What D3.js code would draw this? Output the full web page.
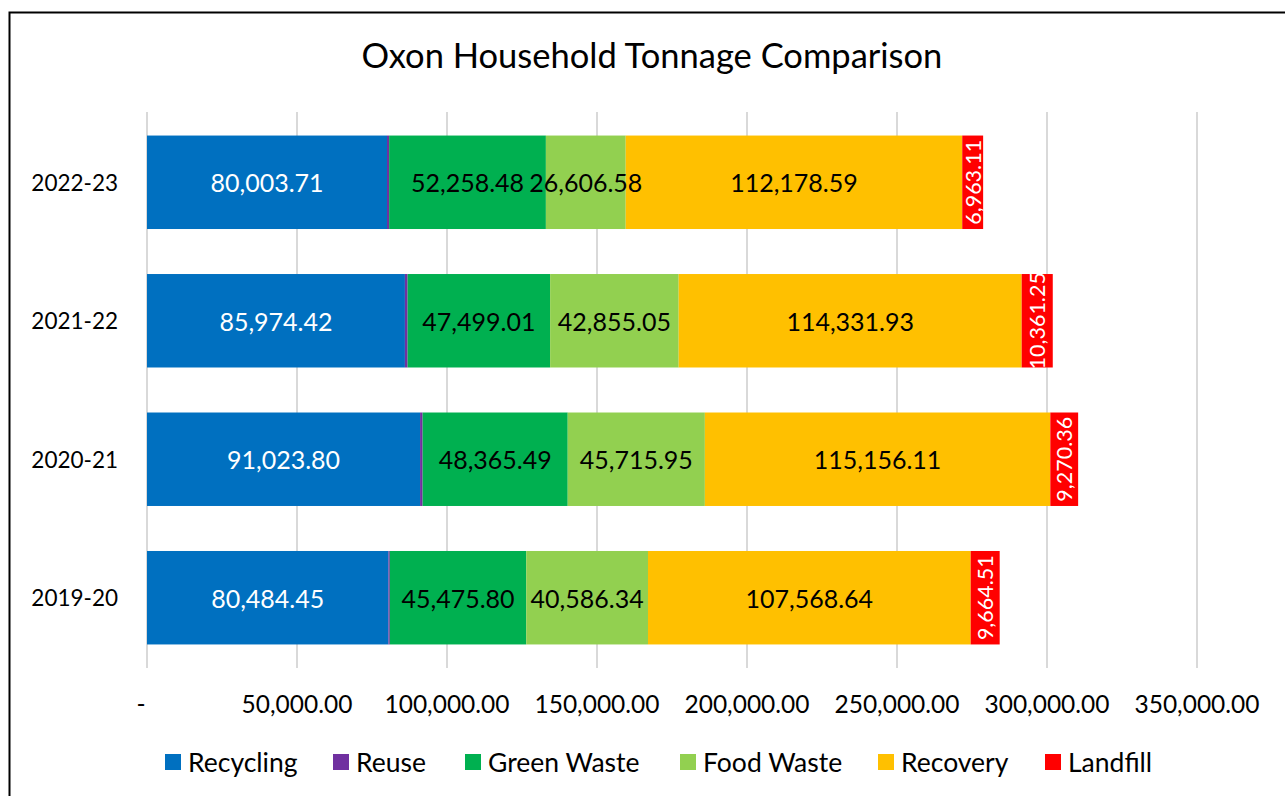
<!DOCTYPE html>
<html lang="en">
<head>
<meta charset="UTF-8"/>
<title>Oxon Household Tonnage Comparison</title>
<script src="https://d3js.org/d3.v7.min.js"></script>
<style>
  body { margin: 0; background: #fff; }
  text { font-family: Lato, "Open Sans", sans-serif; }
</style>
</head>
<body>
<script>
var w = 1285;
var h = 796;

// data
var years = ["2022-23", "2021-22", "2020-21", "2019-20"];
var seriesNames = ["Recycling", "Reuse", "Green Waste", "Food Waste", "Recovery", "Landfill"];
var recycling = [80003.71, 85974.42, 91023.80, 80484.45];
var reuse = [700, 900, 850, 450];
var greenWaste = [52258.48, 47499.01, 48365.49, 45475.80];
var foodWaste = [26606.58, 42855.05, 45715.95, 40586.34];
var recovery = [112178.59, 114331.93, 115156.11, 107568.64];
var landfill = [6963.11, 10361.25, 9270.36, 9664.51];
var xTicks = [0, 50000, 100000, 150000, 200000, 250000, 300000, 350000];

var colors = ["#0070C0", "#7030A0", "#00B050", "#92D050", "#FFC000", "#FF0000"];
var labelColors = ["#fff", null, "#000", "#000", "#000", "#fff"];

var seriesValues = [recycling, reuse, greenWaste, foodWaste, recovery, landfill];
var table = years.map(function(y, i) {
  var row = { year: y };
  seriesNames.forEach(function(s, j) { row[s] = seriesValues[j][i]; });
  return row;
});
var stacked = d3.stack().keys(seriesNames)(table);

var svg = d3.select("body").append("svg")
  .attr("width", w)
  .attr("height", h);

// chart border
svg.append("rect")
  .attr("x", 9.5).attr("y", 12.5)
  .attr("width", w + 10).attr("height", h + 10)
  .attr("fill", "none")
  .attr("stroke", "#000")
  .attr("stroke-width", 2);

svg.append("text")
  .attr("x", 652).attr("y", 68)
  .attr("text-anchor", "middle")
  .style("font-size", "34.5px")
  .attr("fill", "#000")
  .text("Oxon Household Tonnage Comparison");

var xScale = d3.scaleLinear().domain([0, 350000]).range([147, 1197]);
var yScale = d3.scaleBand().domain(years).range([112, 668]).paddingInner(0.325).paddingOuter(0.17);

// gridlines
svg.append("g").selectAll("line")
  .data(xTicks)
  .enter().append("line")
  .attr("x1", function(d) { return xScale(d); })
  .attr("x2", function(d) { return xScale(d); })
  .attr("y1", 112).attr("y2", 668)
  .attr("stroke", "#d9d9d9")
  .attr("stroke-width", 2);

// bars
var groups = svg.append("g").selectAll("g")
  .data(stacked)
  .enter().append("g")
  .attr("fill", function(d, i) { return colors[i]; });

groups.selectAll("rect")
  .data(function(d) { return d; })
  .enter().append("rect")
  .attr("x", function(d) { return xScale(d[0]); })
  .attr("y", function(d) { return yScale(d.data.year); })
  .attr("width", function(d) { return xScale(d[1]) - xScale(d[0]); })
  .attr("height", yScale.bandwidth());

var fmt = d3.format(",.2f");

// data labels
stacked.forEach(function(series, si) {
  if (!labelColors[si]) return;
  series.forEach(function(d) {
    var cx = (xScale(d[0]) + xScale(d[1])) / 2;
    var cy = yScale(d.data.year) + yScale.bandwidth() / 2;
    var t = svg.append("text")
      .attr("fill", labelColors[si])
      .attr("text-anchor", "middle")
      .attr("dominant-baseline", "central")
      .text(fmt(d[1] - d[0]));
    if (series.key === "Landfill") {
      t.style("font-size", "21.5px")
        .attr("transform", "translate(" + cx + "," + cy + ") rotate(-90)");
    } else {
      t.style("font-size", "25px")
        .attr("x", cx).attr("y", cy);
    }
  });
});

// y labels
svg.append("g").selectAll("text")
  .data(years)
  .enter().append("text")
  .attr("x", 118)
  .attr("y", function(d) { return yScale(d) + yScale.bandwidth() / 2; })
  .attr("text-anchor", "end")
  .attr("dominant-baseline", "central")
  .style("font-size", "22.5px")
  .attr("fill", "#000")
  .text(function(d) { return d; });

// x tick labels
svg.append("g").selectAll("text")
  .data(xTicks)
  .enter().append("text")
  .attr("x", function(d) { return d === 0 ? xScale(d) - 6 : xScale(d); })
  .attr("y", 713)
  .attr("text-anchor", "middle")
  .style("font-size", "24.5px")
  .attr("fill", "#000")
  .text(function(d) { return d === 0 ? "-" : fmt(d); });

// legend
var legendX = [165, 333, 465, 680, 878, 1045];
var legend = svg.append("g").selectAll("g")
  .data(seriesNames)
  .enter().append("g")
  .attr("transform", function(d, i) { return "translate(" + legendX[i] + ",754)"; });
legend.append("rect")
  .attr("width", 16).attr("height", 16)
  .attr("fill", function(d, i) { return colors[i]; });
legend.append("text")
  .attr("x", 23).attr("y", 8)
  .attr("dominant-baseline", "central")
  .style("font-size", "26.5px")
  .attr("fill", "#000")
  .text(function(d) { return d; });
</script>
</body>
</html>
